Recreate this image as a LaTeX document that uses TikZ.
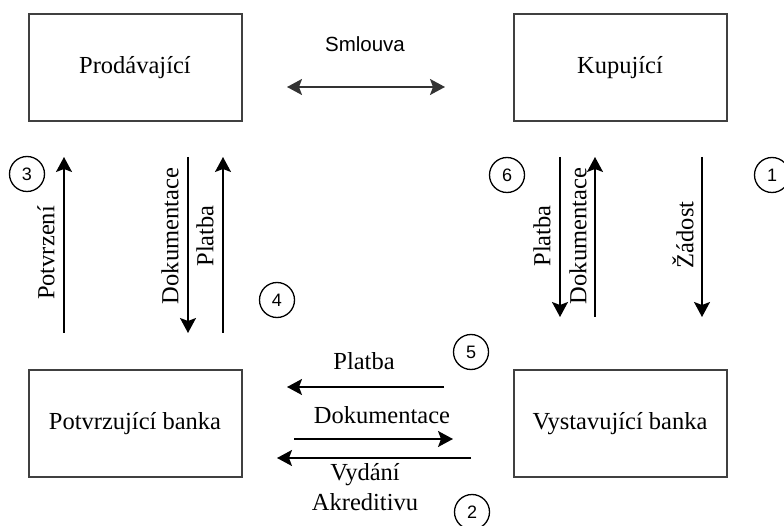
\documentclass[tikz,border=0pt]{standalone}
\usepackage{fontspec}
\setmainfont{Liberation Serif}
\newfontfamily\arialfont{Liberation Sans}
\usetikzlibrary{arrows.meta}
\begin{document}
\begin{tikzpicture}[x=1pt,y=-1pt,
  party/.style={draw=black!75, line width=2pt, minimum width=213pt, minimum height=107pt,
    inner sep=0pt, font=\fontsize{24.5}{29}\selectfont},
  lbl/.style={inner sep=0pt, font=\fontsize{24.5}{29}\selectfont},
  vlbl/.style={lbl, rotate=90},
  num/.style={draw, circle, line width=1.3pt, minimum size=35pt, inner sep=0pt,
    font=\arialfont\fontsize{18}{20}\selectfont},
  tip/.tip={Stealth[length=15pt,width=16pt,inset=3pt]},
  flow/.style={line width=1.6pt, -tip},
  flowboth/.style={line width=1.8pt, draw=black!80, tip-tip}]
\useasboundingbox (0,0) rectangle (784,526);

% parties
\node[party] (seller) at (135,68) {Prodávající};
\node[party] (buyer)  at (620,68) {Kupující};
\node[party] (conf)   at (135,423.5) {Potvrzující banka};
\node[party] (issue)  at (620,423.5) {Vystavující banka};

% contract
\coordinate (sl) at (287,87);
\coordinate (sr) at (445,87);
\draw[flowboth] (sl) -- (sr);
\node[inner sep=0pt, font=\arialfont\fontsize{20.5}{24}\selectfont] (smlouva) at (365,44) {Smlouva};

% seller side flows
\coordinate (a3b) at (64,333);   \coordinate (a3t) at (64,157);
\draw[flow] (a3b) -- (a3t);
\node[vlbl] (potv) at (46,253) {Potvrzení};

\coordinate (d4t) at (188,157);  \coordinate (d4b) at (188,333);
\draw[flow] (d4t) -- (d4b);
\node[vlbl] (dok4) at (170,236) {Dokumentace};

\coordinate (p4b) at (223,333);  \coordinate (p4t) at (223,157);
\draw[flow] (p4b) -- (p4t);
\node[vlbl] (pla4) at (205,236) {Platba};

% buyer side flows
\coordinate (p6t) at (560,157);  \coordinate (p6b) at (560,317);
\draw[flow] (p6t) -- (p6b);
\node[vlbl] (pla6) at (542,236) {Platba};

\coordinate (d6b) at (595,317);  \coordinate (d6t) at (595,157);
\draw[flow] (d6b) -- (d6t);
\node[vlbl] (dok6) at (578,236) {Dokumentace};

\coordinate (z1t) at (702,157);  \coordinate (z1b) at (702,317);
\draw[flow] (z1t) -- (z1b);
\node[vlbl] (zad) at (683,235) {Žádost};

% bank flows
\coordinate (b5r) at (444,387);  \coordinate (b5l) at (287,387);
\draw[flow] (b5r) -- (b5l);
\node[lbl] (pla5) at (364,361) {Platba};

\coordinate (bdl) at (294,439);  \coordinate (bdr) at (453,439);
\draw[flow] (bdl) -- (bdr);
\node[lbl] (dok5) at (382,415) {Dokumentace};

\coordinate (b2r) at (471,458);  \coordinate (b2l) at (277,458);
\draw[flow] (b2r) -- (b2l);
\node[lbl, align=center, font=\fontsize{24.5}{30}\selectfont] (vyd) at (365,487) {Vydání\\Akreditivu};

% step numbers
\node[num] (n1) at (772,175) {1};
\node[num] (n2) at (472,512) {2};
\node[num] (n3) at (27,174) {3};
\node[num] (n4) at (277,300) {4};
\node[num] (n5) at (471,352) {5};
\node[num] (n6) at (507,175) {6};
\end{tikzpicture}
\end{document}
